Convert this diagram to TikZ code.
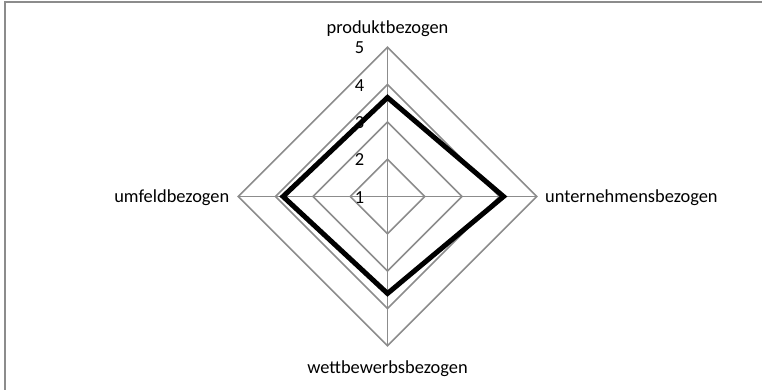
\documentclass[tikz,border=0pt]{standalone}
\usepackage{fontspec}
\setmainfont{Carlito}
\usetikzlibrary{calc}
\begin{document}
\begin{tikzpicture}[x=1pt,y=-1pt,
  gridline/.style={draw=black!45,line width=1.6pt},
  dataline/.style={draw=black,line width=5pt,line join=miter},
  framel/.style={draw=black!45,line width=2pt},
  lbl/.style={inner sep=0pt,font=\fontsize{18.4}{22}\selectfont},
]
\useasboundingbox (0,0) rectangle (762,390);
% frame (only top and left edges visible)
\coordinate (fbl) at (5,390);
\coordinate (ftl) at (5,2);
\coordinate (ftr) at (762,2);
\draw[framel] (fbl) -- (ftl) -- (ftr);
% centre
\coordinate (O) at (387.5,196.5);
\def\u{37.3}
% rings
\foreach \k in {1,2,3,4}{
  \draw[gridline] ($(O)+(0,-\k*\u)$) -- ($(O)+(\k*\u,0)$) -- ($(O)+(0,\k*\u)$) -- ($(O)+(-\k*\u,0)$) -- cycle;
}
% axes
\coordinate (aT) at ($(O)+(0,-4*\u)$);
\coordinate (aR) at ($(O)+(4*\u,0)$);
\coordinate (aB) at ($(O)+(0,4*\u)$);
\coordinate (aL) at ($(O)+(-4*\u,0)$);
\draw[gridline] (O) -- (aT);
\draw[gridline] (O) -- (aR);
\draw[gridline] (O) -- (aB);
\draw[gridline] (O) -- (aL);
% data
\coordinate (dT) at ($(O)+(0,-2.654*\u)$);
\coordinate (dR) at ($(O)+(3.11*\u,0)$);
\coordinate (dB) at ($(O)+(0,2.6*\u)$);
\coordinate (dL) at ($(O)+(-2.8*\u,0)$);
\draw[dataline] (dT) -- (dR) -- (dB) -- (dL) -- cycle;
% scale labels
\foreach \k/\v in {0/1,1/2,2/3,3/4,4/5}{
  \node[lbl,anchor=base east] (n\v) at ($(O)+(-23,-\k*\u+6.5)$) {\v};
}
% axis labels
\node[lbl,anchor=base] (lT) at (387.5,33.5) {produktbezogen};
\node[lbl,anchor=base west] (lR) at (545,202.5) {unternehmensbezogen};
\node[lbl,anchor=base] (lB) at (387.5,373) {wettbewerbsbezogen};
\node[lbl,anchor=base east] (lL) at (229.5,202.5) {umfeldbezogen};
\end{tikzpicture}
\end{document}
